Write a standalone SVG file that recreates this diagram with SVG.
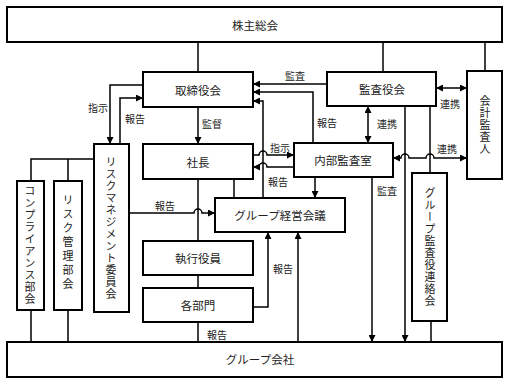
<svg xmlns="http://www.w3.org/2000/svg" width="509" height="384" viewBox="0 0 509 384">
<style>
.box{fill:#fff;stroke:#000;stroke-width:2}
.ln{fill:none;stroke:#000;stroke-width:1.5}
.t{font-family:"Noto Sans CJK JP","Noto Sans",sans-serif;font-size:11.5px;fill:#222;text-anchor:middle;dominant-baseline:central}
.l{font-family:"Noto Sans CJK JP","Noto Sans",sans-serif;font-size:10px;fill:#222;text-anchor:middle;dominant-baseline:central}
.v{font-family:"Noto Sans CJK JP","Noto Sans",sans-serif;font-size:11px;fill:#222;text-anchor:middle;writing-mode:vertical-rl;letter-spacing:1px}
</style>
<defs>
<marker id="a" viewBox="0 0 10 10" refX="10" refY="5" markerWidth="7" markerHeight="7" markerUnits="userSpaceOnUse" orient="auto-start-reverse"><path d="M0,0 L10,5 L0,10 Z" fill="#000"/></marker>
</defs>
<rect width="509" height="384" fill="#fff"/>
<g id="connectors">
<path class="ln" d="M198,42 V72"/>
<path class="ln" d="M383,42 V72"/>
<path class="ln" d="M485,42 V71"/>
<path class="ln" d="M327,84 H253" marker-end="url(#a)"/>
<path class="ln" d="M313,143 V92 H253" marker-end="url(#a)"/>
<path class="ln" d="M263,198 V101 H253" marker-end="url(#a)"/>
<path class="ln" d="M436,88 H467" marker-start="url(#a)" marker-end="url(#a)"/>
<path class="ln" d="M368,106 V143" marker-start="url(#a)" marker-end="url(#a)"/>
<path class="ln" d="M393,158 H401 A4,4 0 0 1 409,158 H426 A4,4 0 0 1 434,158 H467" marker-start="url(#a)" marker-end="url(#a)"/>
<path class="ln" d="M430,106 V173"/>
<path class="ln" d="M405,106 V342" marker-end="url(#a)"/>
<path class="ln" d="M372,177 V342" marker-end="url(#a)"/>
<path class="ln" d="M431,321 V342"/>
<path class="ln" d="M198,107 V144" marker-end="url(#a)"/>
<path class="ln" d="M253,155 H259 A4,4 0 0 1 267,155 H294" marker-end="url(#a)"/>
<path class="ln" d="M294,167 H267 A4,4 0 0 0 259,167 H253" marker-end="url(#a)"/>
<path class="ln" d="M234,179 V198"/>
<path class="ln" d="M315,177 V198" marker-end="url(#a)"/>
<path class="ln" d="M198,179 V241"/>
<path class="ln" d="M198,275 V288"/>
<path class="ln" d="M198,322 V342"/>
<path class="ln" d="M253,307 H268 V232" marker-end="url(#a)"/>
<path class="ln" d="M298,342 V232" marker-end="url(#a)"/>
<path class="ln" d="M143,85 H110 V144" marker-end="url(#a)"/>
<path class="ln" d="M120,144 V98 H143" marker-end="url(#a)"/>
<path class="ln" d="M129,213 H194 A4,4 0 0 1 202,213 H215" marker-end="url(#a)"/>
<path class="ln" d="M94,159 H31 V181 M68,159 V181"/>
<path class="ln" d="M31,310 V342 M68,310 V342"/>
<text class="l" x="295" y="75">監査</text>
<text class="l" x="327" y="122">報告</text>
<text class="l" x="212" y="123">監督</text>
<text class="l" x="98" y="107">指示</text>
<text class="l" x="135" y="118">報告</text>
<text class="l" x="387" y="123">連携</text>
<text class="l" x="450" y="103">連携</text>
<text class="l" x="447" y="148">連携</text>
<text class="l" x="280" y="147">指示</text>
<text class="l" x="278" y="181">報告</text>
<text class="l" x="387" y="190">監査</text>
<text class="l" x="165" y="205">報告</text>
<text class="l" x="283" y="268">報告</text>
<text class="l" x="217" y="334">報告</text>
</g>
<g id="kabunushi"><rect class="box" x="7" y="7" width="495" height="35"/><text class="t" x="255" y="25">株主総会</text></g>
<g id="torishimariyaku"><rect class="box" x="143" y="72" width="110" height="35"/><text class="t" x="198" y="90">取締役会</text></g>
<g id="kansayaku"><rect class="box" x="327" y="72" width="109" height="34"/><text class="t" x="382" y="89">監査役会</text></g>
<g id="kaikei"><rect class="box" x="467" y="71" width="35" height="108"/><text class="v" x="485" y="125">会計監査人</text></g>
<g id="shacho"><rect class="box" x="143" y="144" width="110" height="35"/><text class="t" x="198" y="162">社長</text></g>
<g id="naibu"><rect class="box" x="294" y="143" width="99" height="34"/><text class="t" x="343" y="160">内部監査室</text></g>
<g id="group-keiei"><rect class="box" x="215" y="198" width="130" height="34"/><text class="t" x="280" y="215">グループ経営会議</text></g>
<g id="shikko"><rect class="box" x="143" y="241" width="110" height="34"/><text class="t" x="198" y="258">執行役員</text></g>
<g id="kakubumon"><rect class="box" x="143" y="288" width="110" height="34"/><text class="t" x="198" y="305">各部門</text></g>
<g id="risk-mgmt"><rect class="box" x="94" y="144" width="35" height="168"/><text class="v" x="111" y="228">リスクマネジメント委員会</text></g>
<g id="compliance"><rect class="box" x="17" y="181" width="27" height="129"/><text class="v" x="30" y="245">コンプライアンス部会</text></g>
<g id="risk-kanri"><rect class="box" x="54" y="181" width="28" height="129"/><text class="v" x="68" y="243" style="letter-spacing:3px">リスク管理部会</text></g>
<g id="group-kansa"><rect class="box" x="412" y="173" width="35" height="148"/><text class="v" x="430" y="247">グループ監査役連絡会</text></g>
<g id="group-kaisha"><rect class="box" x="7" y="342" width="495" height="35"/><text class="t" x="260" y="359">グループ会社</text></g>
</svg>
